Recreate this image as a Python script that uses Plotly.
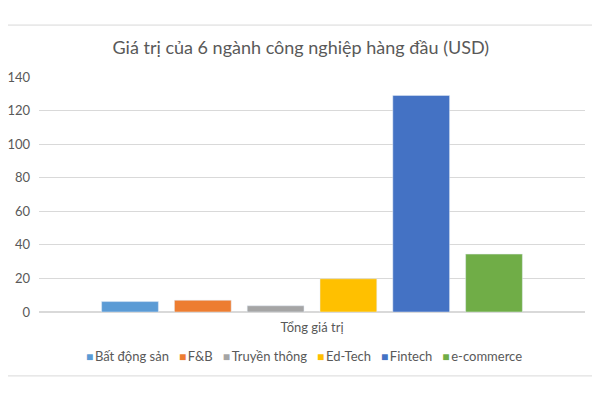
import plotly.graph_objects as go

# Dữ liệu
category = ["Tổng giá trị"]
industries = ["Bất động sản", "F&B", "Truyền thông", "Ed-Tech", "Fintech", "e-commerce"]
values = [6.2, 7.0, 3.7, 19.8, 129, 34.5]
colors = ["#5B9BD5", "#ED7D31", "#A5A5A5", "#FFC000", "#4472C4", "#70AD47"]
y_ticks = [0, 20, 40, 60, 80, 100, 120, 140]

font_name = "Lato, Open Sans, sans-serif"
text_color = "#595959"
line_color = "#d9d9d9"

fig = go.Figure()
for name, val, col in zip(industries, values, colors):
    fig.add_trace(go.Bar(x=category, y=[val], name=name, marker_color=col,
                         showlegend=False))

# chú thích kiểu Excel: ô vuông màu sát chữ, một hàng
legend_text = "\u00a0\u00a0\u00a0".join(
    f'<span style="color:{c};font-size:12px">■</span>\u2009{n}'
    for n, c in zip(industries, colors))
fig.add_annotation(text=legend_text, xref="paper", yref="paper",
                   x=0.485, y=-0.186, xanchor="center", yanchor="middle",
                   showarrow=False, font=dict(size=13, color=text_color))

# khung viền ngoài (như ảnh chụp từ Excel)
for x0, y0, x1, y1 in [(-0.08, 1.221, 1.026, 1.221),
                       (1.026, 1.221, 1.026, -0.272),
                       (-0.08, -0.272, 1.026, -0.272)]:
    fig.add_shape(type="line", xref="paper", yref="paper",
                  x0=x0, y0=y0, x1=x1, y1=y1,
                  line=dict(color=line_color, width=1))

# trang html có lề 8px nên lề của hình được trừ đi tương ứng
fig.update_layout(
    width=600, height=400,
    margin=dict(l=31, r=23, t=69, b=96),
    paper_bgcolor="white", plot_bgcolor="white",
    font=dict(family=font_name, color=text_color, size=13),
    title=dict(text="Giá trị của 6 ngành công nghiệp hàng đầu (USD)",
               x=0.488, xref="container", xanchor="center",
               y=0.9, yref="container", yanchor="middle",
               font=dict(size=18, color=text_color)),
    barmode="group", bargap=0.2, bargroupgap=0.22,
    showlegend=False,
)
fig.update_yaxes(range=[0, 140], tickvals=y_ticks, showgrid=True,
                 gridcolor=line_color, gridwidth=1, zeroline=True,
                 zerolinecolor=line_color, showline=False, automargin=False,
                 ticklabelstandoff=8, tickfont=dict(size=13))
fig.update_xaxes(showline=False, ticks="", ticklabelstandoff=6,
                 automargin=False, tickfont=dict(size=13))

fig.write_html("out.html")
